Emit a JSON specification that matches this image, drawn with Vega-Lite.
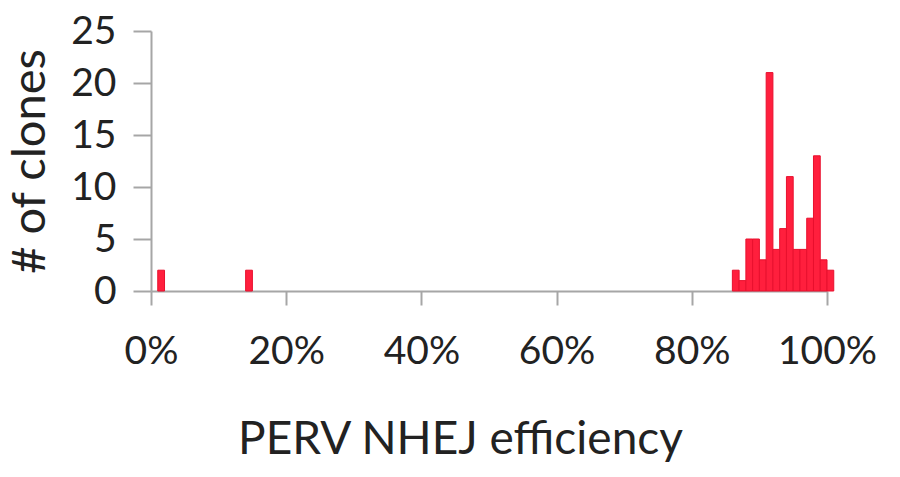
{
  "$schema": "https://vega.github.io/schema/vega-lite/v6.json",
  "width": 676,
  "height": 260,
  "autosize": {"type": "none"},
  "padding": {"left": 151, "top": 31, "right": 73, "bottom": 186},
  "background": "white",
  "config": {"view": {"stroke": null}, "font": "Lato"},
  "data": {
    "values": [
      {"bin_start": 1, "bin_end": 2, "count": 2},
      {"bin_start": 14, "bin_end": 15, "count": 2},
      {"bin_start": 86, "bin_end": 87, "count": 2},
      {"bin_start": 87, "bin_end": 88, "count": 1},
      {"bin_start": 88, "bin_end": 89, "count": 5},
      {"bin_start": 89, "bin_end": 90, "count": 5},
      {"bin_start": 90, "bin_end": 91, "count": 3},
      {"bin_start": 91, "bin_end": 92, "count": 21},
      {"bin_start": 92, "bin_end": 93, "count": 4},
      {"bin_start": 93, "bin_end": 94, "count": 6},
      {"bin_start": 94, "bin_end": 95, "count": 11},
      {"bin_start": 95, "bin_end": 96, "count": 4},
      {"bin_start": 96, "bin_end": 97, "count": 4},
      {"bin_start": 97, "bin_end": 98, "count": 7},
      {"bin_start": 98, "bin_end": 99, "count": 13},
      {"bin_start": 99, "bin_end": 100, "count": 3},
      {"bin_start": 100, "bin_end": 101, "count": 2}
    ]
  },
  "mark": {"type": "bar", "fill": "#ff1f3d", "stroke": "#e8102e", "strokeWidth": 1},
  "encoding": {
    "x": {
      "field": "bin_start",
      "type": "quantitative",
      "scale": {"domain": [0, 100], "nice": false},
      "axis": {
        "values": [0, 20, 40, 60, 80, 100],
        "labelExpr": "datum.value + '%'",
        "title": "PERV NHEJ efficiency",
        "titleFontSize": 46,
        "titleFontWeight": "normal",
        "titleColor": "#222222",
        "titlePadding": 46,
        "titleX": 309,
        "labelFontSize": 39,
        "labelColor": "#222222",
        "labelPadding": 27,
        "tickSize": 14,
        "tickWidth": 2,
        "tickColor": "#a6a6a6",
        "domainColor": "#a6a6a6",
        "domainWidth": 2,
        "grid": false,
        "labelFlush": false
      }
    },
    "x2": {"field": "bin_end"},
    "y": {
      "field": "count",
      "type": "quantitative",
      "scale": {"domain": [0, 25], "nice": false},
      "axis": {
        "values": [0, 5, 10, 15, 20, 25],
        "title": "# of clones",
        "titleFontSize": 47,
        "titleFontWeight": "normal",
        "titleColor": "#222222",
        "titlePadding": 16,
        "labelFontSize": 39,
        "labelColor": "#222222",
        "labelPadding": 17,
        "tickSize": 18,
        "tickWidth": 2,
        "tickColor": "#a6a6a6",
        "domainColor": "#a6a6a6",
        "domainWidth": 2,
        "grid": false,
        "labelFlush": false
      }
    },
    "y2": {"datum": 0}
  }
}
